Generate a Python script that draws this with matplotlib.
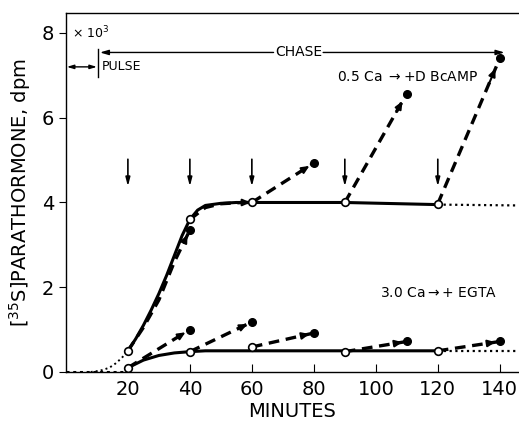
import matplotlib
matplotlib.use("Agg")
import matplotlib.pyplot as plt
import numpy as np

plt.rcParams['font.family'] = ['DejaVu Sans']

# ---- data ----
# smooth curve for 0.5 Ca (solid) and its extensions
hi_curve_x = [20, 22.5, 25, 27.5, 30, 32.5, 35, 37.5, 40, 42.5, 45, 50, 55, 60, 90, 120]
hi_curve_y = [0.5, 0.78, 1.1, 1.46, 1.85, 2.28, 2.75, 3.22, 3.6, 3.82, 3.93, 3.98, 4.0, 4.0, 4.0, 3.95]
hi_pre_x = [8, 11, 14, 16, 18, 20]
hi_pre_y = [0.0, 0.03, 0.1, 0.2, 0.33, 0.5]
hi_post_x = [120, 146]
hi_post_y = [3.95, 3.93]

lo_curve_x = [20, 25, 30, 35, 40, 45, 60, 90, 120]
lo_curve_y = [0.1, 0.28, 0.39, 0.45, 0.48, 0.5, 0.5, 0.5, 0.5]
lo_pre_x = [0, 20]
lo_pre_y = [0.0, 0.0]
lo_post_x = [120, 146]
lo_post_y = [0.5, 0.5]

# open circles (control)
hi_open_x = [20, 40, 60, 90, 120]
hi_open_y = [0.5, 3.6, 4.0, 4.0, 3.97]
lo_open_x = [20, 40, 60, 90, 120]
lo_open_y = [0.1, 0.48, 0.59, 0.48, 0.5]

# dashed transfers: start -> end (filled circles)
hi_dash_start_x = [20, 40, 60, 90, 120]
hi_dash_start_y = [0.5, 3.6, 4.0, 4.0, 3.97]
hi_dash_end_x = [40, 60, 80, 110, 140]
hi_dash_end_y = [3.35, 4.0, 4.93, 6.57, 7.4]

lo_dash_start_x = [20, 40, 60, 90, 120]
lo_dash_start_y = [0.1, 0.48, 0.59, 0.48, 0.5]
lo_dash_end_x = [40, 60, 80, 110, 140]
lo_dash_end_y = [1.0, 1.18, 0.92, 0.72, 0.72]

# upper first dashed segment follows the curve
hi_dash1_x = [20, 25, 30, 35, 40]
hi_dash1_y = [0.5, 1.05, 1.7, 2.6, 3.35]
hi_dash2_x = [40, 45, 50, 57, 60]
hi_dash2_y = [3.6, 3.88, 3.97, 4.0, 4.0]

arrow_x = [20, 40, 60, 90, 120]

x_ticks = [20, 40, 60, 80, 100, 120, 140]
y_ticks = [0, 2, 4, 6, 8]

# ---- figure ----
fig = plt.figure(figsize=(5.19, 4.21), dpi=100)
ax = fig.add_axes([0.127, 0.1164, 0.873, 0.8526])
ax.set_xlim(0, 146.2)
ax.set_ylim(0, 8.47)

k = 'black'
head = '-|>,head_length=0.45,head_width=0.2'
# solid curves
ax.plot(hi_curve_x, hi_curve_y, color=k, lw=2.2, solid_capstyle='round', zorder=3)
ax.plot(lo_curve_x, lo_curve_y, color=k, lw=2.2, zorder=3)
# dotted parts
ax.plot(hi_pre_x, hi_pre_y, color=k, lw=1.4, ls=(0, (1, 1.6)), zorder=3)
ax.plot(lo_pre_x, lo_pre_y, color=k, lw=2.2, ls=(0, (1, 1.2)), zorder=3)
ax.plot(hi_post_x, hi_post_y, color=k, lw=1.6, ls=(0, (1, 1.6)), zorder=3)
ax.plot(lo_post_x, lo_post_y, color=k, lw=1.6, ls=(0, (1, 1.6)), zorder=3)

dash = (0, (3.2, 2.0))


def curve_arrow(xs, ys, filled=True):
    ax.plot(xs, ys, color=k, lw=2.4, ls=dash, zorder=4)
    x1, y1 = xs[-1], ys[-1]
    x0, y0 = xs[-2], ys[-2]
    ax.annotate('', xy=(x1 - 0.15 * (x1 - x0), y1 - 0.15 * (y1 - y0)),
                xytext=(x1 - 0.4 * (x1 - x0), y1 - 0.4 * (y1 - y0)),
                arrowprops=dict(arrowstyle=head, color=k, lw=1.5, shrinkA=0, shrinkB=0),
                zorder=5)
    if filled:
        ax.plot([x1], [y1], 'o', color=k, ms=5.5, zorder=6)


def straight_arrow(xa, ya, xb, yb):
    ax.plot([xa, xb], [ya, yb], color=k, lw=2.4, ls=dash, zorder=4)
    fx, fy = xb - xa, yb - ya
    ax.annotate('', xy=(xa + 0.93 * fx, ya + 0.93 * fy),
                xytext=(xa + 0.83 * fx, ya + 0.83 * fy),
                arrowprops=dict(arrowstyle=head, color=k, lw=1.5, shrinkA=0, shrinkB=0),
                zorder=5)
    ax.plot([xb], [yb], 'o', color=k, ms=5.5, zorder=6)


curve_arrow(hi_dash1_x, hi_dash1_y)
curve_arrow(hi_dash2_x, hi_dash2_y, filled=False)
for i in range(2, 5):
    straight_arrow(hi_dash_start_x[i], hi_dash_start_y[i], hi_dash_end_x[i], hi_dash_end_y[i])
for i in range(5):
    straight_arrow(lo_dash_start_x[i], lo_dash_start_y[i], lo_dash_end_x[i], lo_dash_end_y[i])

# open circles
ax.plot(hi_open_x, hi_open_y, 'o', mfc='white', mec=k, mew=1.2, ms=5.5, zorder=7)
ax.plot(lo_open_x, lo_open_y, 'o', mfc='white', mec=k, mew=1.2, ms=5.5, zorder=7)

# down arrows at transfer times
for xa in arrow_x:
    ax.annotate('', xy=(xa, 4.38), xytext=(xa, 5.02),
                arrowprops=dict(arrowstyle='-|>,head_length=0.5,head_width=0.13',
                                color=k, lw=1.2, shrinkA=0, shrinkB=0))

# pulse / chase annotations
ax.annotate('', xy=(0.3, 7.2), xytext=(10, 7.2),
            arrowprops=dict(arrowstyle='<|-|>,head_length=0.4,head_width=0.12',
                            color=k, lw=1.0, shrinkA=0, shrinkB=0))
ax.plot([10.5, 10.5], [6.97, 7.62], color=k, lw=1.0)
ax.text(11.5, 7.2, 'PULSE', fontsize=9, va='center', ha='left')
ax.annotate('', xy=(11.0, 7.54), xytext=(67, 7.54),
            arrowprops=dict(arrowstyle='-|>,head_length=0.5,head_width=0.15',
                            color=k, lw=1.0, shrinkA=0, shrinkB=0))
ax.annotate('', xy=(141.5, 7.54), xytext=(83, 7.54),
            arrowprops=dict(arrowstyle='-|>,head_length=0.5,head_width=0.15',
                            color=k, lw=1.0, shrinkA=0, shrinkB=0))
ax.text(75, 7.54, 'CHASE', fontsize=10, va='center', ha='center')
ax.text(2.0, 8.0, '× 10$^3$', fontsize=9, va='center', ha='left')

ax.text(87.5, 6.95, '0.5 Ca $\\rightarrow$+D BcAMP', fontsize=10, va='center', ha='left')
ax.text(101.5, 1.87, '3.0 Ca$\\rightarrow$+ EGTA', fontsize=10, va='center', ha='left')

# axes styling
ax.spines['right'].set_visible(False)
for s in ['left', 'bottom', 'top']:
    ax.spines[s].set_linewidth(1.0)
ax.set_xticks(x_ticks)
ax.set_yticks(y_ticks)
ax.tick_params(axis='x', direction='in', length=6, labelsize=14, pad=6)
ax.tick_params(axis='y', direction='out', length=5, labelsize=14)
ax.set_xlabel('MINUTES', fontsize=14, labelpad=2)
ax.set_ylabel('$\\left[^{35}\\mathrm{S}\\right]$PARATHORMONE, dpm', fontsize=14, labelpad=6)

fig.savefig('out.png', dpi=100)
